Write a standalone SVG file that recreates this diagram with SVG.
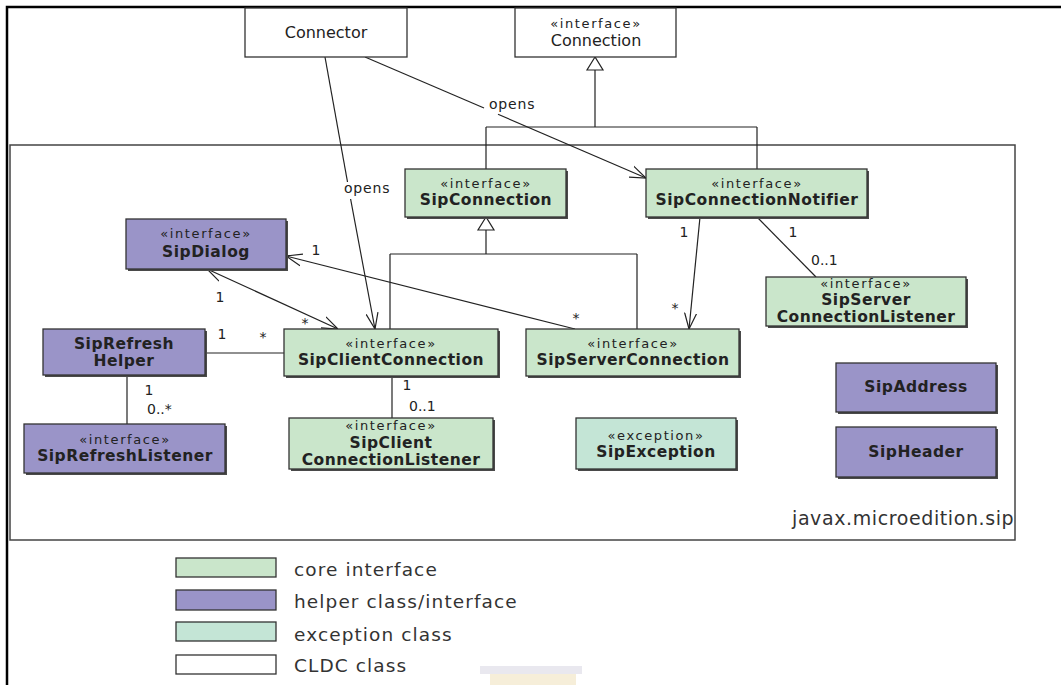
<svg xmlns="http://www.w3.org/2000/svg" width="1061" height="685" viewBox="0 0 1061 685">
<style>
.box{stroke:#333;stroke-width:1.3}
.shadow{fill:#4a4a4a}
.core{fill:#cae6cb}
.helper{fill:#9a94c8}
.exc{fill:#c4e5d6}
.cldc{fill:#fff}
text{font-family:"DejaVu Sans","Liberation Sans",sans-serif;fill:#222}
.st{font-size:13px;letter-spacing:1.6px;text-anchor:middle}
.nm{font-size:15.5px;font-weight:bold;letter-spacing:0.5px;text-anchor:middle}
.rg{font-size:16px;text-anchor:middle}
.lbl{font-size:14px}
.mid{text-anchor:middle}
.edge{fill:none;stroke:#222;stroke-width:1.2}
.nav{marker-end:url(#open)}
.both{marker-start:url(#open);marker-end:url(#open)}
.tri{fill:#fff;stroke:#222;stroke-width:1.2}
.leg{font-size:18.5px;letter-spacing:1.1px;fill:#333}
</style>
<defs>
<marker id="open" viewBox="0 0 16 16" refX="16" refY="8" markerWidth="16" markerHeight="16" markerUnits="userSpaceOnUse" orient="auto-start-reverse">
<path d="M0,2 L16,8 L0,14" fill="none" stroke="#222" stroke-width="1.2"/>
</marker>
</defs>
<rect width="1061" height="685" fill="#fff"/>
<!-- outer frame -->
<path d="M1061,7 H7 V685" fill="none" stroke="#000" stroke-width="2.5"/>
<!-- package -->
<g id="package">
<rect x="10" y="145" width="1005" height="395" fill="none" stroke="#444" stroke-width="1.5"/>
<text x="792" y="525" style="font-size:19px;letter-spacing:0.6px;fill:#333">javax.microedition.sip</text>
</g>

<g id="connectors">
<!-- generalization to Connection -->
<polygon class="tri" points="595,57 587,70 603,70"/>
<path class="edge" d="M595,70 V127 M486,127 H757 M486,127 V169 M757,127 V169"/>
<!-- generalization to SipConnection -->
<polygon class="tri" points="486,217 478,230 494,230"/>
<path class="edge" d="M486,230 V254 M390,254 H637 M390,254 V329 M637,254 V329"/>
<!-- Connector opens SipClientConnection -->
<path class="edge" d="M325,57 L347.5,182"/>
<path class="edge nav" d="M350.6,199 L375,329"/>
<text class="lbl" x="344" y="193" style="letter-spacing:0.8px">opens</text>
<!-- Connector opens SipConnectionNotifier -->
<path class="edge" d="M365,57 L484,108"/>
<path class="edge nav" d="M498,114.3 L646,178"/>
<text class="lbl" x="489" y="109" style="letter-spacing:0.8px">opens</text>
<!-- Notifier -> ServerConnection -->
<path class="edge nav" d="M700,217 L689,329"/>
<text class="lbl mid" x="684" y="237">1</text>
<text class="lbl mid" x="675" y="313">*</text>
<!-- Notifier - ServerConnectionListener -->
<path class="edge" d="M757,217 L816,277"/>
<text class="lbl mid" x="793" y="237">1</text>
<text class="lbl" x="811" y="265">0..1</text>
<!-- SipDialog <-> SipClientConnection -->
<path class="edge both" d="M207,269 L338,329"/>
<text class="lbl mid" x="220" y="302">1</text>
<text class="lbl mid" x="305" y="328">*</text>
<!-- SipServerConnection -> SipDialog -->
<path class="edge nav" d="M575,329 L286,256"/>
<text class="lbl mid" x="316" y="255">1</text>
<text class="lbl mid" x="576" y="323">*</text>
<!-- SipRefreshHelper - SipClientConnection -->
<path class="edge" d="M205,353 H284"/>
<text class="lbl mid" x="222" y="339">1</text>
<text class="lbl mid" x="263" y="342">*</text>
<!-- SipRefreshHelper - SipRefreshListener -->
<path class="edge" d="M127,375 V424"/>
<text class="lbl mid" x="149" y="395">1</text>
<text class="lbl" x="147" y="414">0..*</text>
<!-- SipClientConnection - SipClientConnectionListener -->
<path class="edge" d="M392,376 V418"/>
<text class="lbl mid" x="407" y="390">1</text>
<text class="lbl" x="409" y="411">0..1</text>
</g>

<g id="Connector">
<rect class="box cldc" x="245" y="8" width="162" height="49"/>
<text class="rg" x="326" y="38">Connector</text>
</g>
<g id="Connection">
<rect class="box cldc" x="515" y="8" width="161" height="49"/>
<text class="st" x="596" y="28">«interface»</text>
<text class="rg" x="596" y="46">Connection</text>
</g>
<g id="SipConnection">
<rect class="shadow" x="407" y="171" width="161" height="48"/>
<rect class="box core" x="405" y="169" width="161" height="48"/>
<text class="st" x="486" y="188">«interface»</text>
<text class="nm" x="486" y="205">SipConnection</text>
</g>
<g id="SipConnectionNotifier">
<rect class="shadow" x="648" y="171" width="221" height="48"/>
<rect class="box core" x="646" y="169" width="221" height="48"/>
<text class="st" x="757" y="188">«interface»</text>
<text class="nm" x="757" y="205">SipConnectionNotifier</text>
</g>
<g id="SipDialog">
<rect class="shadow" x="128" y="221" width="160" height="50"/>
<rect class="box helper" x="126" y="219" width="160" height="50"/>
<text class="st" x="206" y="238">«interface»</text>
<text class="nm" x="206" y="257">SipDialog</text>
</g>
<g id="SipServerConnectionListener">
<rect class="shadow" x="768" y="279" width="200" height="49"/>
<rect class="box core" x="766" y="277" width="200" height="49"/>
<text class="st" x="866" y="288">«interface»</text>
<text class="nm" x="866" y="305">SipServer</text>
<text class="nm" x="866" y="322">ConnectionListener</text>
</g>
<g id="SipRefreshHelper">
<rect class="shadow" x="45" y="331" width="162" height="46"/>
<rect class="box helper" x="43" y="329" width="162" height="46"/>
<text class="nm" x="124" y="349">SipRefresh</text>
<text class="nm" x="124" y="366">Helper</text>
</g>
<g id="SipClientConnection">
<rect class="shadow" x="286" y="331" width="214" height="47"/>
<rect class="box core" x="284" y="329" width="214" height="47"/>
<text class="st" x="391" y="348">«interface»</text>
<text class="nm" x="391" y="365">SipClientConnection</text>
</g>
<g id="SipServerConnection">
<rect class="shadow" x="528" y="331" width="213" height="47"/>
<rect class="box core" x="526" y="329" width="213" height="47"/>
<text class="st" x="633" y="348">«interface»</text>
<text class="nm" x="633" y="365">SipServerConnection</text>
</g>
<g id="SipAddress">
<rect class="shadow" x="838" y="365" width="160" height="49"/>
<rect class="box helper" x="836" y="363" width="160" height="49"/>
<text class="nm" x="916" y="392">SipAddress</text>
</g>
<g id="SipRefreshListener">
<rect class="shadow" x="26" y="426" width="201" height="49"/>
<rect class="box helper" x="24" y="424" width="201" height="49"/>
<text class="st" x="125" y="444">«interface»</text>
<text class="nm" x="125" y="461">SipRefreshListener</text>
</g>
<g id="SipClientConnectionListener">
<rect class="shadow" x="291" y="420" width="204" height="51"/>
<rect class="box core" x="289" y="418" width="204" height="51"/>
<text class="st" x="391" y="430">«interface»</text>
<text class="nm" x="391" y="448">SipClient</text>
<text class="nm" x="391" y="465">ConnectionListener</text>
</g>
<g id="SipException">
<rect class="shadow" x="578" y="420" width="160" height="51"/>
<rect class="box exc" x="576" y="418" width="160" height="51"/>
<text class="st" x="656" y="440">«exception»</text>
<text class="nm" x="656" y="457">SipException</text>
</g>
<g id="SipHeader">
<rect class="shadow" x="838" y="429" width="160" height="50"/>
<rect class="box helper" x="836" y="427" width="160" height="50"/>
<text class="nm" x="916" y="457">SipHeader</text>
</g>

<g id="legend">
<rect class="box core" x="176" y="558" width="100" height="19"/>
<text class="leg" x="294" y="576">core interface</text>
<rect class="box helper" x="176" y="590" width="100" height="20"/>
<text class="leg" x="294" y="608">helper class/interface</text>
<rect class="box exc" x="176" y="622" width="100" height="19"/>
<text class="leg" x="294" y="641">exception class</text>
<rect class="box cldc" x="176" y="655" width="100" height="19"/>
<text class="leg" x="294" y="672">CLDC class</text>
</g>
<g id="watermark" opacity="0.6">
<rect x="480" y="666" width="102" height="8" fill="#dcd9e6"/>
<rect x="490" y="674" width="86" height="11" fill="#f1e4c0"/>
</g>
</svg>
